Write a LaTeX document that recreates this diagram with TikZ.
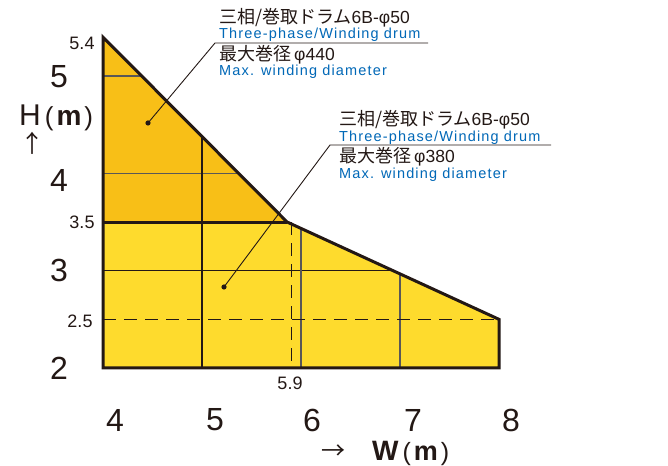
\documentclass[tikz,border=0pt]{standalone}
\usepackage{fontspec}
\setmainfont{Liberation Sans}
\newfontfamily\jp{Noto Sans CJK JP}
\newfontfamily\en[LetterSpace=8]{Liberation Sans}
\definecolor{ink}{HTML}{231815}
\definecolor{gridgray}{HTML}{595757}
\definecolor{upperfill}{HTML}{F8BF17}
\definecolor{lowerfill}{HTML}{FEDB2D}
\definecolor{engblue}{HTML}{0068B7}
\newcommand{\latpart}[1]{{\rmfamily\fontsize{17.5}{17.5}\selectfont #1}}
\tikzset{
  outline/.style={line width=3pt, draw=ink, line join=miter},
  gridblack/.style={line width=1.3pt, draw=ink},
  gridgrey/.style={line width=1.3pt, draw=gridgray},
  dashline/.style={line width=1.1pt, draw=ink, dash pattern=on 13pt off 8pt},
  leader/.style={line width=0.9pt, draw=ink},
  jptext/.style={inner sep=0pt, anchor=base west, text depth=0pt, text=ink, font=\jp\fontsize{18}{18}\selectfont},
  entext/.style={inner sep=0pt, anchor=base west, text=engblue, font=\en\fontsize{14.5}{14.5}\selectfont},
  bignum/.style={inner sep=0pt, text=ink, font=\fontsize{32}{32}\selectfont},
  smallnum/.style={inner sep=0pt, text=ink, font=\fontsize{18}{18}\selectfont},
}
\begin{document}
\begin{tikzpicture}[x=1pt,y=1pt]
\useasboundingbox (0,0) rectangle (668,465);
\fill[white] (0,0) rectangle (668,465);
\begin{scope}[shift={(103pt,97pt)}, x=99pt, y=97.3pt]
  \coordinate (O) at (0,0);
  \coordinate (Top) at (0,3.4);
  \coordinate (L35) at (0,1.5);
  \coordinate (Cor) at (1.86,1.5);
  \coordinate (R25) at (4,0.5);
  \coordinate (R2) at (4,0);
  % fills
  \fill[lowerfill] (O) -- (L35) -- (Cor) -- (R25) -- (R2) -- cycle;
  \fill[upperfill] (Top) -- (Cor) -- (L35) -- cycle;
  % grid
  \coordinate (h5a) at (0,3);    \coordinate (h5b) at (0.392,3);
  \coordinate (h4a) at (0,2);    \coordinate (h4b) at (1.37,2);
  \coordinate (w5a) at (1,2.379); \coordinate (w5b) at (1,0);
  \coordinate (h3a) at (0,1);    \coordinate (h3b) at (2.93,1);
  \coordinate (w6a) at (2,1.435); \coordinate (w6b) at (2,0);
  \coordinate (w7a) at (3,0.967); \coordinate (w7b) at (3,0);
  \coordinate (d25a) at (0,0.5); \coordinate (d25b) at (4,0.5);
  \coordinate (d59a) at (1.9,1.5); \coordinate (d59b) at (1.9,0);
  \draw[gridgrey] (h5a) -- (h5b);
  \draw[gridgrey] (h4a) -- (h4b);
  \draw[gridblack] (w5a) -- (w5b);
  \draw[gridblack] (h3a) -- (h3b);
  \draw[gridgrey] (w6a) -- (w6b);
  \draw[gridgrey] (w7a) -- (w7b);
  \draw[dashline] (d25a) -- (d25b);
  \draw[dashline] (d59a) -- (d59b);
  % outline
  \draw[outline] (O) -- (Top) -- (Cor) -- (R25) -- (R2) -- cycle;
  \draw[outline] (L35) -- (Cor);
\end{scope}
% leaders
\coordinate (dot1) at (148,342);
\coordinate (k1) at (215,422);
\coordinate (e1) at (428,422);
\coordinate (dot2) at (224,178);
\coordinate (k2) at (330,320);
\coordinate (e2) at (551,320);
\fill[ink] (dot1) circle (2.6pt);
\fill[ink] (dot2) circle (2.6pt);
\draw[leader] (dot1) -- (k1) -- (e1);
\draw[leader] (dot2) -- (k2) -- (e2);
% label block 1
\node[jptext] (t1a) at (219,441) {三相/巻取ドラム\latpart{6B-φ50}};
\node[entext] (t1b) at (219,426) {Three-phase/Winding drum};
\node[jptext] (t1c) at (219,404.5) {最大巻径\hspace{3pt}\latpart{φ440}};
\node[entext] (t1d) at (219,389.5) {Max. winding diameter};
% label block 2
\node[jptext] (t2a) at (339,339) {三相/巻取ドラム\latpart{6B-φ50}};
\node[entext] (t2b) at (339,323) {Three-phase/Winding drum};
\node[jptext] (t2c) at (339,302.5) {最大巻径\hspace{3pt}\latpart{φ380}};
\node[entext] (t2d) at (339,286.5) {Max. winding diameter};
% axis numbers
\node[smallnum] (y54) at (82,422) {5.4};
\node[smallnum] (y35) at (82,243) {3.5};
\node[smallnum] (y25) at (80,144) {2.5};
\node[smallnum] (x59) at (290,82) {5.9};
\node[bignum] (y5) at (59,388) {5};
\node[bignum] (y4) at (59,285) {4};
\node[bignum] (y3) at (59,195) {3};
\node[bignum] (y2) at (59,97) {2};
\node[bignum] (x4) at (115,45) {4};
\node[bignum] (x5) at (215,45) {5};
\node[bignum] (x6) at (312,45) {6};
\node[bignum] (x7) at (413,45) {7};
\node[bignum] (x8) at (511,45) {8};
% axis titles
\node[inner sep=0pt, anchor=base west, text=ink] (ht) at (19,339)
  {\fontsize{30}{30}\selectfont H\hspace{4pt}{\fontsize{26}{26}\selectfont (}\hspace{3pt}{\bfseries\fontsize{28}{28}\selectfont m}\hspace{3pt}{\fontsize{26}{26}\selectfont )}};
\node[inner sep=0pt, text=ink] (hu) at (32,322) {\jp\fontsize{24}{24}\selectfont ↑};
\node[inner sep=0pt, text=ink] (wa) at (333,13) {\jp\fontsize{24}{24}\selectfont →};
\node[inner sep=0pt, anchor=base west, text=ink] (wt) at (372,5)
  {\bfseries\fontsize{28}{28}\selectfont W\hspace{4pt}{\mdseries\fontsize{25}{25}\selectfont (}\hspace{3pt}{\fontsize{27}{27}\selectfont m}\hspace{3pt}{\mdseries\fontsize{25}{25}\selectfont )}};
\end{tikzpicture}
\end{document}
